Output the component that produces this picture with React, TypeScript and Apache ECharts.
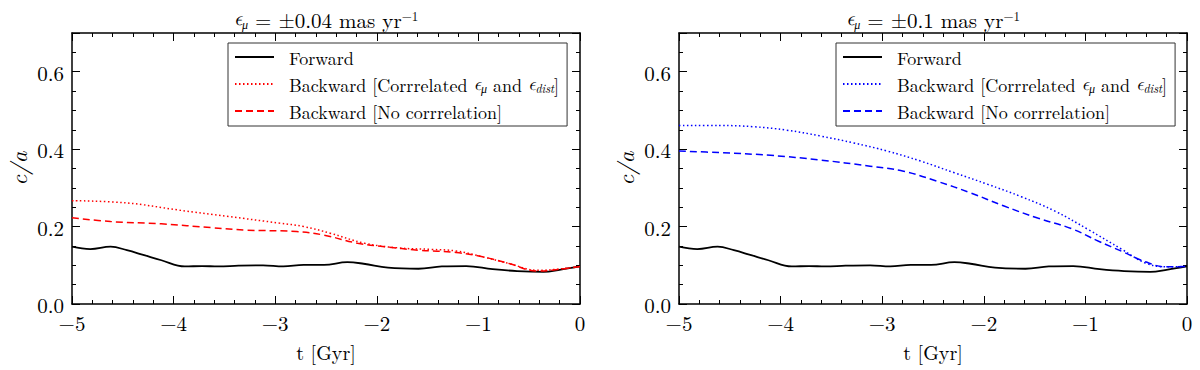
import React, { useEffect, useRef } from "react";
import * as echarts from "echarts";

// ---- data ----
const tForward = [-5, -4.82, -4.62, -4.46, -4.29, -4.12, -3.89, -3.72, -3.56, -3.36, -3.12, -2.92, -2.72, -2.52, -2.29, -2.13, -1.89, -1.59, -1.36, -1.12, -0.86, -0.62, -0.36, -0.19, 0];
const forward = [0.148, 0.142, 0.148, 0.139, 0.126, 0.113, 0.097, 0.098, 0.097, 0.099, 0.1, 0.097, 0.101, 0.101, 0.108, 0.104, 0.094, 0.091, 0.097, 0.098, 0.09, 0.085, 0.083, 0.089, 0.097];

const tCorrA = [-5, -4.46, -3.96, -3.46, -2.96, -2.72, -2.46, -2.12, -1.79, -1.46, -1.22, -0.96, -0.69, -0.42, -0.22, 0];
const corrA = [0.267, 0.261, 0.243, 0.226, 0.209, 0.2, 0.183, 0.157, 0.145, 0.141, 0.137, 0.122, 0.104, 0.087, 0.09, 0.097];

const tNoCorrA = [-5, -4.62, -4.12, -3.62, -3.29, -2.79, -2.52, -2.19, -1.92, -1.59, -1.22, -0.96, -0.69, -0.42, -0.22, 0];
const noCorrA = [0.223, 0.213, 0.207, 0.197, 0.191, 0.187, 0.178, 0.157, 0.148, 0.139, 0.133, 0.122, 0.104, 0.085, 0.089, 0.097];

const tCorrB = [-5, -4.6, -4.27, -3.94, -3.61, -3.28, -2.95, -2.62, -2.29, -1.96, -1.63, -1.3, -0.97, -0.64, -0.41, -0.21, 0];
const corrB = [0.461, 0.461, 0.458, 0.449, 0.434, 0.416, 0.395, 0.369, 0.339, 0.309, 0.277, 0.24, 0.192, 0.141, 0.106, 0.096, 0.097];

const tNoCorrB = [-5, -4.6, -4.1, -3.61, -3.12, -2.79, -2.46, -2.13, -1.8, -1.47, -1.14, -0.87, -0.64, -0.41, -0.21, 0];
const noCorrB = [0.395, 0.391, 0.384, 0.372, 0.356, 0.343, 0.317, 0.287, 0.253, 0.222, 0.195, 0.162, 0.136, 0.109, 0.096, 0.097];

const panelTitles = [
  "{e|ϵ}{sub|μ} = ±0.04 mas yr{sup|−1}",
  "{e|ϵ}{sub|μ} = ±0.1 mas yr{sup|−1}",
];
const legendLabels: Record<string, string> = {
  fwdA: "Forward",
  corrA: "Backward [Corrrelated {e|ϵ}{sub|μ} and {e|ϵ}{sub|dist}]",
  nocA: "Backward [No corrrelation]",
  fwdB: "Forward",
  corrB: "Backward [Corrrelated {e|ϵ}{sub|μ} and {e|ϵ}{sub|dist}]",
  nocB: "Backward [No corrrelation]",
};
const xLabel = "t [Gyr]";
const yLabel = "c/a";

const FONT = "Latin Modern Roman";
const MATH = "Latin Modern Math, Latin Modern Roman, DejaVu Serif";

const zip = (xs: number[], ys: number[]) => xs.map((x, i) => [x, ys[i]]);

export default function App() {
  const ref = useRef<HTMLDivElement>(null);
  useEffect(() => {
    if (!ref.current) return;
    const chart = echarts.init(ref.current, undefined, { renderer: "svg" });

    const grids = [
      { left: 72, top: 33, width: 508, height: 271 },
      { left: 679, top: 33, width: 508, height: 271 },
    ];
    const axisLine = { show: true, onZero: false, lineStyle: { color: "#000", width: 1.5 } };
    const fmtX = (v: number) => (v < 0 ? "−" + Math.abs(v) : String(v));
    const fmtY = (v: number) => (Math.abs(v - 0.7) < 1e-6 ? "" : v.toFixed(1));

    const xAxes: any[] = [];
    const yAxes: any[] = [];
    grids.forEach((_, g) => {
      xAxes.push({
        type: "value", gridIndex: g, position: "bottom", min: -5, max: 0, interval: 1,
        axisLine, splitLine: { show: false },
        axisTick: { inside: true, length: 8, lineStyle: { color: "#000", width: 1 } },
        minorTick: { show: true, splitNumber: 5, length: 4, lineStyle: { color: "#000", width: 1 } },
        axisLabel: { formatter: fmtX, color: "#000", fontFamily: FONT, fontSize: 21, margin: 7 },
        name: xLabel, nameLocation: "middle", nameGap: 37,
        nameTextStyle: { color: "#000", fontFamily: FONT, fontSize: 20 },
      });
      xAxes.push({
        type: "value", gridIndex: g, position: "top", min: -5, max: 0, interval: 1,
        axisLine, splitLine: { show: false },
        axisTick: { inside: true, length: 8, lineStyle: { color: "#000", width: 1 } },
        minorTick: { show: true, splitNumber: 5, length: 4, lineStyle: { color: "#000", width: 1 } },
        axisLabel: { show: false },
      });
      (["left", "right"] as const).forEach((pos) => {
        yAxes.push({
          type: "value", gridIndex: g, position: pos, min: 0, max: 0.7, interval: 0.2,
          axisLine, splitLine: { show: false },
          axisTick: { inside: true, length: 8, lineStyle: { color: "#000", width: 1 } },
          axisLabel: pos === "left"
            ? { formatter: fmtY, color: "#000", fontFamily: FONT, fontSize: 21, margin: 8 }
            : { show: false },
          ...(pos === "left"
            ? {
                name: yLabel, nameLocation: "middle", nameGap: 43, nameRotate: 90,
                nameTextStyle: { color: "#000", fontFamily: FONT, fontSize: 23, fontStyle: "italic" },
              }
            : {}),
        });
        yAxes.push({
          type: "value", gridIndex: g, position: pos, min: 0, max: 0.7, interval: 0.05,
          axisLine: { show: false, onZero: false }, splitLine: { show: false },
          axisTick: { inside: true, length: 4, lineStyle: { color: "#000", width: 1 } },
          axisLabel: { show: false },
        });
      });
    });

    const line = (name: string, data: number[][], g: number, color: string, type: any, width: number) => ({
      type: "line", name, data, xAxisIndex: g * 2, yAxisIndex: g * 4,
      symbol: "none", smooth: 0.4, clip: true,
      lineStyle: { color, width, type }, itemStyle: { color },
    });

    const dotted = [1.5, 2.5];
    const dashed = [7, 4];

    const richDefs = {
      e: { fontFamily: MATH, fontSize: 18, fontStyle: "italic", color: "#000" },
      sub: { fontFamily: FONT, fontSize: 12, fontStyle: "italic", verticalAlign: "bottom", color: "#000" },
      sup: { fontFamily: FONT, fontSize: 13, verticalAlign: "top", color: "#000" },
    };

    const legend = (data: string[], left: number) => ({
      data, left, top: 43, orient: "vertical",
      itemWidth: 39, itemHeight: 14, itemGap: 9,
      padding: [5, 8, 6, 6],
      borderColor: "#333", borderWidth: 1, borderRadius: 0, backgroundColor: "#fff",
      selectedMode: false,
      itemStyle: { opacity: 0, color: "rgba(0,0,0,0)", borderWidth: 0 },
      formatter: (n: string) => legendLabels[n],
      textStyle: {
        color: "#000", fontFamily: FONT, fontSize: 18, padding: [0, 0, 0, 10],
        rich: richDefs,
      },
    });

    chart.setOption({
      animation: false,
      backgroundColor: "#fff",
      grid: grids,
      xAxis: xAxes,
      yAxis: yAxes,
      legend: [legend(["fwdA", "corrA", "nocA"], 228), legend(["fwdB", "corrB", "nocB"], 836)],
      graphic: grids.map((gr, i) => ({
        type: "text",
        x: gr.left + gr.width / 2,
        y: 19,
        style: {
          text: panelTitles[i],
          fontFamily: FONT, fontSize: 21, fill: "#000",
          align: "center", verticalAlign: "middle",
          rich: { ...richDefs, e: { ...richDefs.e, fontSize: 20 } },
        },
      })),
      series: [
        line("fwdA", zip(tForward, forward), 0, "#000", "solid", 1.8),
        line("corrA", zip(tCorrA, corrA), 0, "#ff0000", dotted, 1.5),
        line("nocA", zip(tNoCorrA, noCorrA), 0, "#ff0000", dashed, 1.5),
        line("fwdB", zip(tForward, forward), 1, "#000", "solid", 1.8),
        line("corrB", zip(tCorrB, corrB), 1, "#0000ff", dotted, 1.5),
        line("nocB", zip(tNoCorrB, noCorrB), 1, "#0000ff", dashed, 1.5),
      ],
    });
    return () => chart.dispose();
  }, []);
  return (
    <div
      ref={ref}
      style={{ position: "fixed", left: 0, top: 0, width: 1200, height: 370, background: "#fff" }}
    />
  );
}
